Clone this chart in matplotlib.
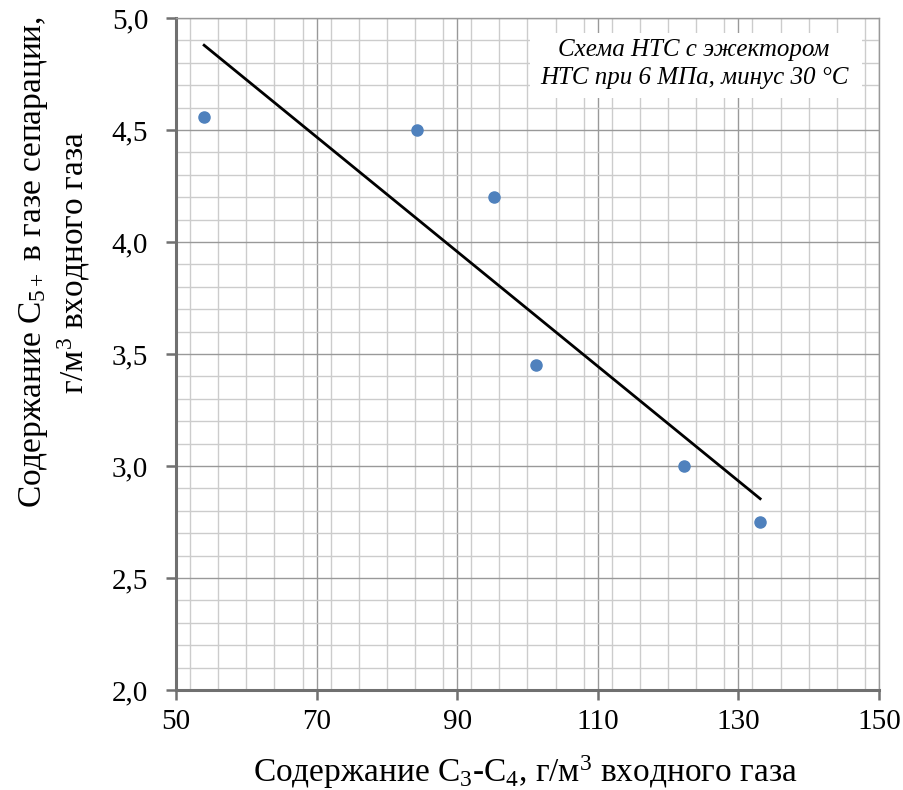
import numpy as np
import matplotlib
matplotlib.use("Agg")
import matplotlib.pyplot as plt
from matplotlib.ticker import MultipleLocator, FuncFormatter
from matplotlib.patches import Rectangle

plt.rcParams['font.family'] = ['Liberation Serif', 'DejaVu Serif']
plt.rcParams['mathtext.fontset'] = 'custom'
plt.rcParams['mathtext.rm'] = 'Liberation Serif'
plt.rcParams['mathtext.it'] = 'Liberation Serif:italic'

# Data
c3c4 = [54.0, 84.3, 95.2, 101.2, 122.3, 133.1]
c5plus = [4.56, 4.50, 4.20, 3.45, 3.00, 2.75]
x_ticks = [50, 70, 90, 110, 130, 150]
y_ticks = [2.0, 2.5, 3.0, 3.5, 4.0, 4.5, 5.0]
note_lines = ["Схема НТС с эжектором", "НТС при 6 МПа, минус 30 °С"]

fig = plt.figure(figsize=(9.04, 7.90), dpi=100)
ax = fig.add_axes([0.1947, 0.1266, 0.7776, 0.8506])

ax.set_xlim(50, 150)
ax.set_ylim(2.0, 5.0)
ax.set_xticks(x_ticks)
ax.set_yticks(y_ticks)
ax.xaxis.set_minor_locator(MultipleLocator(4))
ax.yaxis.set_minor_locator(MultipleLocator(0.1))
ax.yaxis.set_major_formatter(FuncFormatter(lambda v, p: f"{v:.1f}".replace('.', ',')))

ax.grid(which='minor', color='#cccccc', linewidth=1.0, zorder=0)
ax.grid(which='major', color='#999999', linewidth=1.0, zorder=0)
ax.set_axisbelow(True)

for s in ['top', 'right']:
    ax.spines[s].set_color('#999999')
    ax.spines[s].set_linewidth(1.0)
for s in ['left', 'bottom']:
    ax.spines[s].set_color('#707070')
    ax.spines[s].set_linewidth(2.2)

ax.tick_params(which='major', direction='out', length=7, width=1.8, color='#707070',
               labelsize=21)
ax.tick_params(axis='y', pad=13)
ax.tick_params(axis='x', pad=7)
ax.tick_params(which='minor', length=0)

ax.scatter(c3c4, c5plus, s=64, color='#4F81BD', zorder=3)

# Linear trend line
k, b = np.polyfit(c3c4, c5plus, 1)
xl = np.array([min(c3c4), max(c3c4)])
ax.plot(xl, k * xl + b, color='black', linewidth=2.0, zorder=2)

fig.text(0.581, 0.022, "Содержание С$_3$-С$_4$, г/м$^3$ входного газа", fontsize=24,
         ha='center', va='center')
fig.text(0.060, 0.668, "Содержание С$_{5+}$ в газе сепарации,\nг/м$^3$ входного газа",
         fontsize=24, rotation=90, ha='center', va='center', linespacing=1.2,
         multialignment='center')

ax.add_patch(Rectangle((0.5036, 0.881), 0.4722, 0.0967, transform=ax.transAxes,
                       facecolor='white', edgecolor='none', zorder=4))
ax.text(0.737, 0.9315, "\n".join(note_lines), transform=ax.transAxes, ha='center', va='center',
        fontsize=18, style='italic', linespacing=1.4, zorder=5)

fig.savefig("out.png", dpi=100)
